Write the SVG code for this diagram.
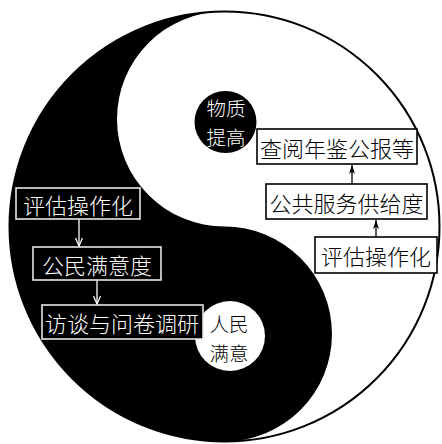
<svg xmlns="http://www.w3.org/2000/svg" width="442" height="444" viewBox="0 0 442 444">
<style>
text{font-family:"Noto Sans CJK SC","Noto Sans CJK JP",sans-serif;font-size:22px;font-weight:300;text-anchor:middle;dominant-baseline:central}
.dot{font-size:19.5px}
.wt{fill:#ffffff}
.bt{fill:#000000}
.lbox{fill:#000000;stroke:#e6e6e6;stroke-width:1.6}
.rbox{fill:#ffffff;stroke:#000000;stroke-width:1.6}
.lcon{stroke:#ffffff;stroke-width:1.3;fill:none;marker-end:url(#openW)}
.rcon{stroke:#000000;stroke-width:1.3;fill:none;marker-end:url(#stealthB)}
</style>
<defs>
<marker id="openW" markerUnits="userSpaceOnUse" viewBox="-10 -6 12 12" refX="0" refY="0" markerWidth="12" markerHeight="12" orient="auto">
<path d="M-8,-3.5 L0,0 L-8,3.5" fill="none" stroke="#ffffff" stroke-width="1.2"/>
</marker>
<marker id="stealthB" markerUnits="userSpaceOnUse" viewBox="-10 -6 12 12" refX="0" refY="0" markerWidth="12" markerHeight="12" orient="auto">
<path d="M0,0 L-9,-3 L-6.5,0 L-9,3 Z" fill="#000000"/>
</marker>
</defs>
<g id="yinyang">
<circle cx="224.5" cy="226.5" r="215" fill="#ffffff"/>
<path d="M224.5,11.5 A215,215 0 0 0 224.5,441.5 A107.5,107.5 0 0 0 224.5,226.5 A107.5,107.5 0 0 1 224.5,11.5 Z" fill="#000000"/>
<circle cx="224.5" cy="226.5" r="215" fill="none" stroke="#000000" stroke-width="2"/>
</g>
<g id="wuzhi">
<circle cx="225.5" cy="122" r="31" fill="#000000"/>
<text class="wt dot" x="226" y="107.5">物质</text>
<text class="wt dot" x="226" y="136">提高</text>
</g>
<g id="renmin">
<circle cx="230" cy="336" r="35" fill="#ffffff"/>
<text class="bt dot" x="229" y="323.5">人民</text>
<text class="bt dot" x="229" y="352">满意</text>
</g>
<g id="connectors">
<line class="lcon" x1="79" y1="219" x2="79" y2="246"/>
<line class="lcon" x1="97" y1="280" x2="97" y2="304"/>
<line class="rcon" x1="376" y1="237" x2="376" y2="220"/>
<line class="rcon" x1="352" y1="184" x2="352" y2="165"/>
</g>
<g id="l1">
<rect class="lbox" x="16" y="188" width="124" height="31"/>
<text class="wt" x="78" y="204">评估操作化</text>
</g>
<g id="l2">
<rect class="lbox" x="33" y="247" width="128" height="33"/>
<text class="wt" x="97" y="264">公民满意度</text>
</g>
<g id="l3">
<rect class="lbox" x="42" y="305" width="161" height="34"/>
<text class="wt" x="122" y="322">访谈与问卷调研</text>
</g>
<g id="r1">
<rect class="rbox" x="257" y="129" width="160" height="35"/>
<text class="bt" x="337" y="147">查阅年鉴公报等</text>
</g>
<g id="r2">
<rect class="rbox" x="266" y="184" width="161" height="35"/>
<text class="bt" x="346.5" y="202">公共服务供给度</text>
</g>
<g id="r3">
<rect class="rbox" x="315" y="237" width="122" height="36"/>
<text class="bt" x="376" y="255">评估操作化</text>
</g>
</svg>
